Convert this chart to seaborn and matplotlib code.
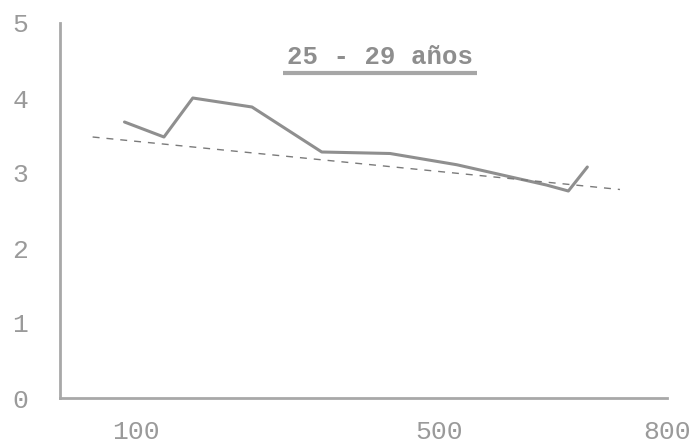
import matplotlib
matplotlib.use("Agg")
import matplotlib.pyplot as plt
import seaborn as sns
import pandas as pd

# Values (25 - 29 years)
income = [85, 137, 175, 253, 345, 435, 523, 641, 670, 695]
rate = [3.68, 3.48, 4.00, 3.88, 3.28, 3.26, 3.11, 2.84, 2.76, 3.08]

# Fitted trend (dashed line) end points
trend_x = [43, 738]
trend_y = [3.48, 2.78]

x_ticks = [100, 200, 300, 400, 500, 600, 700, 800]
x_labels = ["100", "", "", "", "500", "", "", "800"]
y_ticks = [0, 1, 2, 3, 4, 5]
title = "25 - 29 años"

sns.set_style("white")
plt.rcParams["font.family"] = ["Liberation Mono", "DejaVu Sans"]

gray_text = "#9a9a9a"
gray_line = "#8f8f8f"

fig = plt.figure(figsize=(6.95, 4.46), dpi=100)
ax = fig.add_axes([60 / 695, 48 / 446, 607 / 695, 375 / 446])

df = pd.DataFrame({"income": income, "rate": rate})
sns.lineplot(data=df, x="income", y="rate", ax=ax, color=gray_line,
             linewidth=2.2, sort=False)
trend = pd.DataFrame({"income": trend_x, "rate": trend_y})
sns.lineplot(data=trend, x="income", y="rate", ax=ax, color="#7a7a7a",
             linewidth=1.0, linestyle=(0, (5, 5)))

ax.set_xlim(0, 800)
ax.set_ylim(0, 5)
ax.set_xticks(x_ticks)
ax.set_xticklabels(x_labels)
ax.set_yticks(y_ticks)
ax.set_xlabel("")
ax.set_ylabel("")

for side in ["top", "right"]:
    ax.spines[side].set_visible(False)
for side in ["left", "bottom"]:
    ax.spines[side].set_color("#a8a8a8")
    ax.spines[side].set_linewidth(2.0)

ax.tick_params(axis="both", direction="inout", length=8, width=1.0,
               color="#a0a0a0", labelcolor=gray_text, labelsize=19)
ax.tick_params(axis="y", pad=19)
ax.tick_params(axis="x", pad=12)

t = ax.text(422, 4.55, title, ha="center", va="center", fontsize=18.5,
            color="#8e8e8e", fontweight="bold")

# underline the title below its drawn text
fig.canvas.draw()
bb = t.get_window_extent().transformed(ax.transData.inverted())
ax.plot([bb.x0 - 5, bb.x1 + 5], [bb.y0 - 0.05, bb.y0 - 0.05],
        color="#a6a6a6", linewidth=3.0, solid_capstyle="butt")

plt.savefig("out.png", dpi=100)
plt.close()
